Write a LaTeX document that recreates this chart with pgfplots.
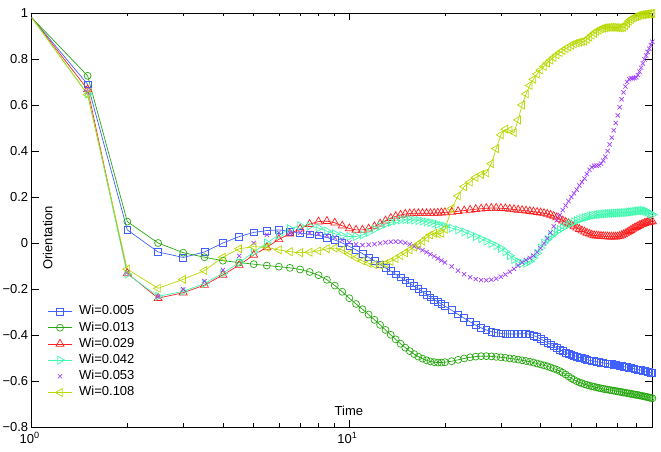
\documentclass[border=0pt]{standalone}
\usepackage{fontspec}
\setmainfont{Liberation Sans}
\usepackage{pgfplots}
\usepackage{pgfplotstable}
\pgfplotsset{compat=1.18}
\definecolor{cB}{RGB}{64,96,255}
\definecolor{cG}{RGB}{40,168,16}
\definecolor{cR}{RGB}{255,32,32}
\definecolor{cC}{RGB}{64,250,176}
\definecolor{cP}{RGB}{160,64,255}
\definecolor{cY}{RGB}{184,216,0}
\pgfplotstableread{
t B G R C P Y
1 0.98 0.98 0.98 0.98 0.98 0.98
1.5 0.69 0.727 0.668 0.648 0.655 0.645
2 0.057 0.093 -0.132 -0.135 -0.127 -0.114
2.5 -0.039 0.0 -0.240 -0.232 -0.233 -0.197
3 -0.063 -0.042 -0.216 -0.210 -0.202 -0.158
3.5 -0.039 -0.062 -0.183 -0.176 -0.166 -0.120
4 0.0 -0.077 -0.139 -0.132 -0.117 -0.062
4.5 0.028 -0.085 -0.096 -0.085 -0.056 -0.025
5 0.046 -0.092 -0.052 -0.040 0.0 -0.016
5.5 0.054 -0.098 -0.019 0.0 0.036 -0.019
6 0.057 -0.103 0.016 0.035 0.045 -0.030
6.5 0.050 -0.108 0.040 0.062 0.045 -0.038
7 0.043 -0.115 0.062 0.075 0.045 -0.042
7.5 0.038 -0.126 0.082 0.074 0.043 -0.040
8 0.033 -0.140 0.093 0.065 0.040 -0.034
8.5 0.024 -0.160 0.095 0.052 0.033 -0.025
9 0.013 -0.185 0.088 0.040 0.024 -0.022
9.5 0.0 -0.212 0.075 0.032 0.013 -0.030
10 -0.015 -0.240 0.063 0.028 0.002 -0.048
10.5 -0.030 -0.265 0.057 0.028 -0.006 -0.065
11 -0.046 -0.288 0.057 0.035 -0.009 -0.078
11.5 -0.062 -0.311 0.062 0.046 -0.008 -0.088
12 -0.078 -0.334 0.072 0.060 -0.005 -0.094
12.5 -0.093 -0.356 0.084 0.072 -0.001 -0.096
13 -0.108 -0.378 0.097 0.082 0.003 -0.090
13.5 -0.122 -0.399 0.108 0.090 0.005 -0.080
14 -0.136 -0.419 0.116 0.096 0.006 -0.068
14.5 -0.149 -0.438 0.122 0.100 0.005 -0.055
15 -0.162 -0.455 0.126 0.101 0.001 -0.043
15.5 -0.175 -0.470 0.128 0.101 -0.006 -0.030
16 -0.188 -0.483 0.129 0.100 -0.014 -0.018
16.5 -0.200 -0.494 0.129 0.098 -0.022 -0.005
17 -0.212 -0.503 0.129 0.095 -0.031 0.008
17.5 -0.224 -0.510 0.129 0.092 -0.040 0.022
18 -0.236 -0.515 0.129 0.089 -0.049 0.035
18.5 -0.247 -0.518 0.130 0.085 -0.058 0.042
19 -0.256 -0.520 0.131 0.081 -0.067 0.040
19.5 -0.265 -0.520 0.132 0.077 -0.076 0.042
20 -0.275 -0.518 0.133 0.073 -0.085 0.060
21 -0.292 -0.514 0.135 0.065 -0.102 0.150
22 -0.310 -0.508 0.138 0.057 -0.120 0.205
23 -0.327 -0.502 0.141 0.048 -0.136 0.245
24 -0.343 -0.497 0.144 0.038 -0.149 0.265
25 -0.357 -0.494 0.147 0.028 -0.157 0.285
26 -0.369 -0.492 0.149 0.018 -0.161 0.298
27 -0.378 -0.492 0.151 0.008 -0.162 0.305
28 -0.385 -0.493 0.152 -0.002 -0.160 0.345
29 -0.390 -0.495 0.152 -0.012 -0.155 0.410
30 -0.393 -0.497 0.151 -0.023 -0.147 0.470
31 -0.395 -0.499 0.150 -0.038 -0.137 0.495
32 -0.396 -0.502 0.148 -0.055 -0.125 0.490
33 -0.396 -0.504 0.146 -0.072 -0.112 0.480
34 -0.395 -0.507 0.144 -0.083 -0.098 0.535
35 -0.394 -0.510 0.142 -0.088 -0.085 0.600
36 -0.394 -0.513 0.140 -0.088 -0.074 0.648
37 -0.397 -0.516 0.138 -0.080 -0.065 0.685
38 -0.402 -0.520 0.136 -0.065 -0.055 0.712
39 -0.409 -0.524 0.134 -0.045 -0.040 0.735
40 -0.417 -0.528 0.132 -0.022 -0.022 0.752
41 -0.425 -0.532 0.129 0.000 -0.002 0.768
42 -0.433 -0.536 0.126 0.015 0.020 0.782
43 -0.441 -0.541 0.122 0.028 0.045 0.795
44 -0.449 -0.546 0.117 0.040 0.072 0.807
45 -0.456 -0.551 0.111 0.050 0.098 0.818
46 -0.463 -0.557 0.104 0.058 0.122 0.828
47 -0.470 -0.564 0.097 0.066 0.143 0.837
48 -0.476 -0.572 0.091 0.073 0.163 0.845
49 -0.481 -0.580 0.085 0.080 0.182 0.852
50 -0.486 -0.588 0.079 0.086 0.200 0.860
51 -0.490 -0.595 0.072 0.092 0.216 0.866
52 -0.494 -0.601 0.066 0.097 0.232 0.870
53 -0.498 -0.606 0.060 0.102 0.250 0.873
54 -0.501 -0.610 0.054 0.106 0.265 0.875
55 -0.504 -0.614 0.049 0.110 0.280 0.878
56 -0.507 -0.617 0.044 0.113 0.300 0.886
57 -0.510 -0.620 0.040 0.116 0.318 0.895
58 -0.512 -0.623 0.036 0.119 0.330 0.904
59 -0.514 -0.625 0.033 0.121 0.336 0.912
60 -0.516 -0.628 0.032 0.123 0.336 0.920
61 -0.518 -0.630 0.031 0.124 0.338 0.926
62 -0.520 -0.632 0.030 0.125 0.345 0.931
63 -0.521 -0.634 0.029 0.126 0.358 0.934
64 -0.523 -0.636 0.028 0.127 0.375 0.936
65 -0.524 -0.637 0.028 0.128 0.400 0.937
66 -0.526 -0.639 0.027 0.128 0.428 0.938
67 -0.527 -0.641 0.027 0.129 0.458 0.938
68 -0.529 -0.642 0.027 0.129 0.490 0.938
69 -0.530 -0.644 0.027 0.130 0.522 0.937
70 -0.532 -0.645 0.028 0.130 0.555 0.936
71 -0.534 -0.647 0.030 0.131 0.590 0.936
72 -0.535 -0.648 0.033 0.131 0.625 0.936
73 -0.537 -0.650 0.037 0.132 0.655 0.938
74 -0.539 -0.651 0.041 0.132 0.680 0.945
75 -0.540 -0.653 0.046 0.133 0.700 0.955
76 -0.542 -0.654 0.051 0.134 0.712 0.965
77 -0.544 -0.656 0.056 0.135 0.716 0.972
78 -0.545 -0.657 0.061 0.136 0.716 0.978
79 -0.547 -0.659 0.065 0.137 0.717 0.982
80 -0.549 -0.660 0.069 0.138 0.720 0.985
81 -0.550 -0.661 0.073 0.139 0.730 0.988
82 -0.552 -0.663 0.077 0.140 0.745 0.990
83 -0.553 -0.664 0.080 0.141 0.762 0.992
84 -0.555 -0.666 0.083 0.141 0.780 0.993
85 -0.557 -0.667 0.086 0.140 0.798 0.994
86 -0.558 -0.669 0.088 0.138 0.815 0.995
87 -0.560 -0.670 0.090 0.135 0.830 0.996
88 -0.561 -0.672 0.092 0.131 0.845 0.997
89 -0.563 -0.673 0.093 0.127 0.860 0.997
90 -0.565 -0.675 0.094 0.123 0.875 0.998
}\data
\begin{document}
\begin{tikzpicture}
\begin{axis}[
  name=ax,
  scale only axis,
  width=620.7pt, height=414pt,
  xmode=log,
  xmin=1, xmax=90,
  ymin=-0.8, ymax=1,
  xtick={1,10},
  xticklabels={10\textsuperscript{0},10\textsuperscript{1}},
  minor xtick={2,3,4,5,6,7,8,9,20,30,40,50,60,70,80},
  ytick={-0.8,-0.6,-0.4,-0.2,0,0.2,0.4,0.6,0.8,1},
  yticklabels={−0.8,−0.6,−0.4,−0.2,0,0.2,0.4,0.6,0.8,1},
  tick align=inside,
  xtick pos=both, ytick pos=both,
  major tick length=7pt,
  minor tick length=3.5pt,
  every tick/.style={black, line width=0.6pt},
  axis line style={line width=0.8pt},
  tick label style={font=\fontsize{13}{15}\selectfont},
  xticklabel style={yshift=-2pt, xshift=-2pt},
  label style={font=\fontsize{13}{15}\selectfont},
  xlabel={Time},
  ylabel={Orientation},
  x label style={at={(axis description cs:0.511,0.039)}, anchor=center},
  y label style={at={(axis description cs:0.026,0.457)}, anchor=center},
  legend style={draw=none, fill=none, inner sep=0pt,
    at={(axis description cs:0.0251,0.294)}, anchor=north west,
    font=\fontsize{13}{15}\selectfont,
    nodes={inner sep=0pt, text height=9.5pt, text depth=2.5pt},
    row sep=4.2pt},
  legend cell align=left,
  /tikz/every odd column/.append style={column sep=6.6pt},
  legend image code/.code={\draw[mark repeat=2,mark phase=2] plot coordinates {(0pt,0pt) (12.2pt,0pt) (24.4pt,0pt)};},
  every axis plot/.append style={line width=0.7pt, mark phase=2, mark repeat=1},
]
\addplot[color=cB, mark=square, mark size=3.4pt, mark options={solid}] table[x=t,y=B]{\data};
\addlegendentry{Wi=0.005}
\addplot[color=cG, mark=o, mark size=3.5pt, mark options={solid}] table[x=t,y=G]{\data};
\addlegendentry{Wi=0.013}
\addplot[color=cR, mark=triangle, mark size=4.6pt, mark options={solid}] table[x=t,y=R]{\data};
\addlegendentry{Wi=0.029}
\addplot[color=cC, mark=triangle, mark size=4.6pt, mark options={solid, rotate=-90}] table[x=t,y=C]{\data};
\addlegendentry{Wi=0.042}
\addplot[color=cP, only marks, mark=x, mark size=3pt, mark options={solid}] table[x=t,y=P]{\data};
\addlegendentry{Wi=0.053}
\addplot[color=cY, mark=triangle, mark size=4.6pt, mark options={solid, rotate=90}] table[x=t,y=Y]{\data};
\addlegendentry{Wi=0.108}
\end{axis}
\pgfresetboundingbox
\useasboundingbox ([shift={(-31.7pt,-25pt)}]ax.south west) rectangle ([shift={(8.6pt,13pt)}]ax.north east);
\end{tikzpicture}
\end{document}
